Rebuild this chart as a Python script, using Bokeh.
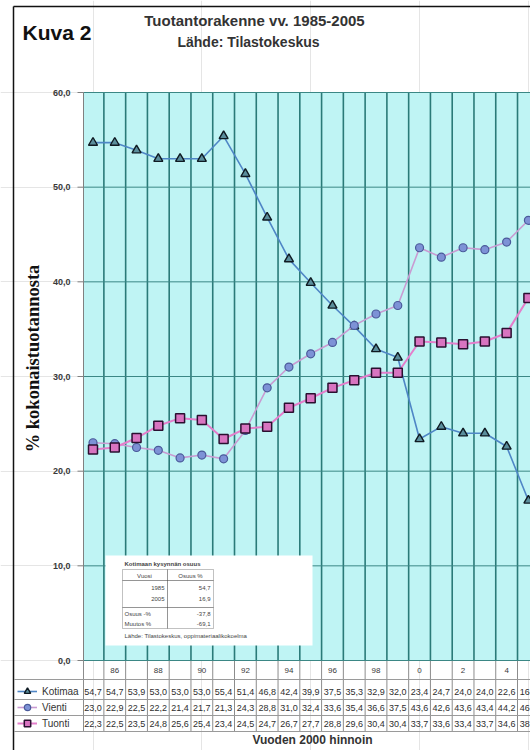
from math import pi
from bokeh.plotting import figure
from bokeh.models import (ColumnDataSource, Range1d, Label, BoxAnnotation,
                          Legend, LegendItem)
from bokeh.core.properties import value
from bokeh.embed import file_html
from bokeh.resources import INLINE

# ---------------- data ----------------
years = list(range(1985, 2006))
kotimaa = [54.7, 54.7, 53.9, 53.0, 53.0, 53.0, 55.4, 51.4, 46.8, 42.4, 39.9,
           37.5, 35.3, 32.9, 32.0, 23.4, 24.7, 24.0, 24.0, 22.6, 16.9]
vienti = [23.0, 22.9, 22.5, 22.2, 21.4, 21.7, 21.3, 24.3, 28.8, 31.0, 32.4,
          33.6, 35.4, 36.6, 37.5, 43.6, 42.6, 43.6, 43.4, 44.2, 46.5]
tuonti = [22.3, 22.5, 23.5, 24.8, 25.6, 25.4, 23.4, 24.5, 24.7, 26.7, 27.7,
          28.8, 29.6, 30.4, 30.4, 33.7, 33.6, 33.4, 33.7, 34.6, 38.3]
series_names = ["Kotimaa", "Vienti", "Tuonti"]

year_ticks = [1986, 1988, 1990, 1992, 1994, 1996, 1998, 2000, 2002, 2004]
year_labels = ["86", "88", "90", "92", "94", "96", "98", "0", "2", "4"]
y_ticks = [0, 10, 20, 30, 40, 50, 60]
y_labels = ["0,0", "10,0", "20,0", "30,0", "40,0", "50,0", "60,0"]

inset_title = "Kotimaan kysynnän osuus"
inset_head = ["Vuosi", "Osuus %"]
inset_years = ["1985", "2005"]
inset_shares = [54.7, 16.9]
inset_change_names = ["Osuus -%", "Muutos %"]
inset_change_vals = [-37.8, -69.1]
inset_source = "Lähde: Tilastokeskus, oppimateriaalikokoelma"

title_text = "Tuotantorakenne vv. 1985-2005"
subtitle_text = "Lähde: Tilastokeskus"
fig_label = "Kuva 2"
y_title = "% kokonaistuotannosta"
x_title = "Vuoden 2000 hinnoin"


def fmt(v):
    return f"{v:.1f}".replace(".", ",")


# ---------------- geometry (picture px -> data) ----------------
W, H = 530, 750
PX_X = 21.77            # px per year
PX_Y = 568 / 60.0       # px per percentage point


def dx(px):
    return 1985 + (px - 92.5) / PX_X


def dy(py):
    return (660 - py) / PX_Y


XA, XB = dx(0), dx(W)
YA, YB = dy(H), dy(0)
PLOT_L = dx(83)
FONT = "Liberation Sans"

p = figure(width=W, height=H, x_range=Range1d(XA, XB),
           y_range=Range1d(YA, YB), x_axis_location=None,
           y_axis_location=None, output_backend="svg",
           toolbar_location=None, min_border=0,
           background_fill_color="white", border_fill_color="white",
           outline_line_color=None)

# plot area background
p.add_layout(BoxAnnotation(left=PLOT_L, bottom=0, top=60, fill_color="#bff4f4",
                           fill_alpha=1, line_color=None, level="underlay"))

half_years = [y + 0.5 for y in years[:-1]]
n_h = len(half_years)
# vertical grid (plot area) and column lines (table)
p.segment(x0=half_years, y0=[0] * n_h, x1=half_years, y1=[60] * n_h,
          line_color="#2a7a78", line_width=1.6)
p.segment(x0=half_years + [PLOT_L], y0=[dy(660)] * (n_h + 1),
          x1=half_years + [PLOT_L], y1=[dy(731)] * (n_h + 1),
          line_color="#8c8c8c", line_width=1)
# horizontal grid
p.segment(x0=[PLOT_L] * len(y_ticks), y0=y_ticks, x1=[XB] * len(y_ticks),
          y1=y_ticks, line_color="#3b8785", line_width=1)
# axis line and ticks
p.segment(x0=[PLOT_L], y0=[0], x1=[PLOT_L], y1=[60], line_color="#808080",
          line_width=1)
p.segment(x0=[dx(77)] * len(y_ticks), y0=y_ticks, x1=[PLOT_L] * len(y_ticks),
          y1=y_ticks, line_color="#808080", line_width=1)
p.text(x=[dx(70)] * len(y_ticks), y=y_ticks, text=y_labels,
       text_align="right", text_baseline="middle", text_font=value(FONT),
       text_font_size="9px", text_font_style="bold", text_color="#3a3a3a")
# table row lines
row_lines = [dy(679), dy(699), dy(715), dy(731)]
p.segment(x0=[dx(14)] * 4, y0=row_lines, x1=[XB] * 4, y1=row_lines,
          line_color="#9a9a9a", line_width=1)
# year labels (table header)
p.text(x=year_ticks, y=[dy(669.5)] * len(year_ticks), text=year_labels,
       text_align="center", text_baseline="middle", text_font=value(FONT),
       text_font_size="8px", text_color="#3a3a3a")

# series
lk = p.line(years, kotimaa, line_color="#4f86c6", line_width=1.6)
sk = p.scatter(years, kotimaa, marker="triangle", size=9,
               fill_color="#5b8e9c", line_color="#0f1a22", line_width=1.4)
lv = p.line(years, vienti, line_color="#c99bd2", line_width=1.6)
sv = p.scatter(years, vienti, marker="circle", size=8,
               fill_color="#7d92d6", line_color="#4a5a9a", line_width=1.2)
lt = p.line(years, tuonti, line_color="#e47ecb", line_width=2)
st = p.scatter(years, tuonti, marker="square", size=9,
               fill_color="#d874c0", line_color="#2a1030", line_width=1.5)

# table values
row_y = [691, 707, 723]
for vals, ry in zip([kotimaa, vienti, tuonti], row_y):
    src = ColumnDataSource(dict(x=years, y=[dy(ry)] * len(years),
                                t=[fmt(v) for v in vals]))
    p.text(x="x", y="y", text="t", source=src, text_align="center",
           text_baseline="middle", text_font=value(FONT),
           text_font_size="9px", text_color="#2e2e2e")

legend = Legend(items=[LegendItem(label=series_names[0], renderers=[lk, sk]),
                       LegendItem(label=series_names[1], renderers=[lv, sv]),
                       LegendItem(label=series_names[2], renderers=[lt, st])],
                location=(17, H - 731), orientation="vertical",
                glyph_width=20, glyph_height=16, label_height=16,
                spacing=0, padding=0, margin=0, label_standoff=5,
                background_fill_alpha=0, border_line_color=None,
                label_text_font=FONT, label_text_font_size="10px",
                label_text_color="#333333")
p.add_layout(legend)

# ---------------- inset box ----------------
p.add_layout(BoxAnnotation(left=dx(105), right=dx(312), top=dy(555),
                           bottom=dy(645), fill_color="white", fill_alpha=1,
                           line_color=None))
cells = [(122, 167, 569, 580), (167, 213, 569, 580),
         (122, 167, 580, 607), (167, 213, 580, 607),
         (122, 167, 607, 628), (167, 213, 607, 628)]
for l, r, t, b in cells:
    p.add_layout(BoxAnnotation(left=dx(l), right=dx(r), top=dy(t),
                               bottom=dy(b), fill_alpha=0,
                               line_color="#333333", line_width=1))


def small(text, px, py, align="left", size="6px", style="normal"):
    p.add_layout(Label(x=dx(px), y=dy(py), text=text, text_align=align,
                       text_baseline="middle", text_font=FONT,
                       text_font_size=size, text_font_style=style,
                       text_color="#444444"))


small(inset_title, 124, 563, style="bold")
small(inset_head[0], 144, 575, align="center")
small(inset_head[1], 190, 575, align="center")
for i, (yr, sh) in enumerate(zip(inset_years, inset_shares)):
    small(yr, 164, 587 + 11 * i, align="right")
    small(fmt(sh), 210, 587 + 11 * i, align="right")
for i, (nm, cv) in enumerate(zip(inset_change_names, inset_change_vals)):
    small(nm, 124, 613 + 10 * i)
    small(fmt(cv), 210, 613 + 10 * i, align="right")
small(inset_source, 124, 635)

# ---------------- texts ----------------
p.add_layout(Label(x=dx(22), y=dy(32), text=fig_label, text_align="left",
                   text_baseline="alphabetic", text_font=FONT,
                   text_font_size="21px", text_font_style="bold",
                   text_color="#111111"))
p.add_layout(Label(x=dx(254), y=dy(20), text=title_text, text_align="center",
                   text_baseline="middle", text_font=FONT,
                   text_font_size="15px", text_font_style="bold",
                   text_color="#333333"))
p.add_layout(Label(x=dx(248), y=dy(41), text=subtitle_text,
                   text_align="center", text_baseline="middle",
                   text_font=FONT, text_font_size="14px",
                   text_font_style="bold", text_color="#333333"))
p.add_layout(Label(x=dx(312), y=dy(739), text=x_title, text_align="center",
                   text_baseline="middle", text_font=FONT,
                   text_font_size="12px", text_font_style="bold",
                   text_color="#333333"))
p.add_layout(Label(x=dx(32), y=dy(358), text=y_title, text_align="center",
                   text_baseline="middle", angle=pi / 2,
                   text_font="Liberation Serif", text_font_size="18.5px",
                   text_font_style="bold", text_color="#111111"))

# outer frame lines (left and top)
p.segment(x0=[dx(13), dx(13)], y0=[dy(6), dy(6)], x1=[dx(13), XB + 1],
          y1=[YA - 1, dy(6)], line_color="#111111", line_width=1.5)

open("out.html", "w").write(file_html(p, INLINE))
